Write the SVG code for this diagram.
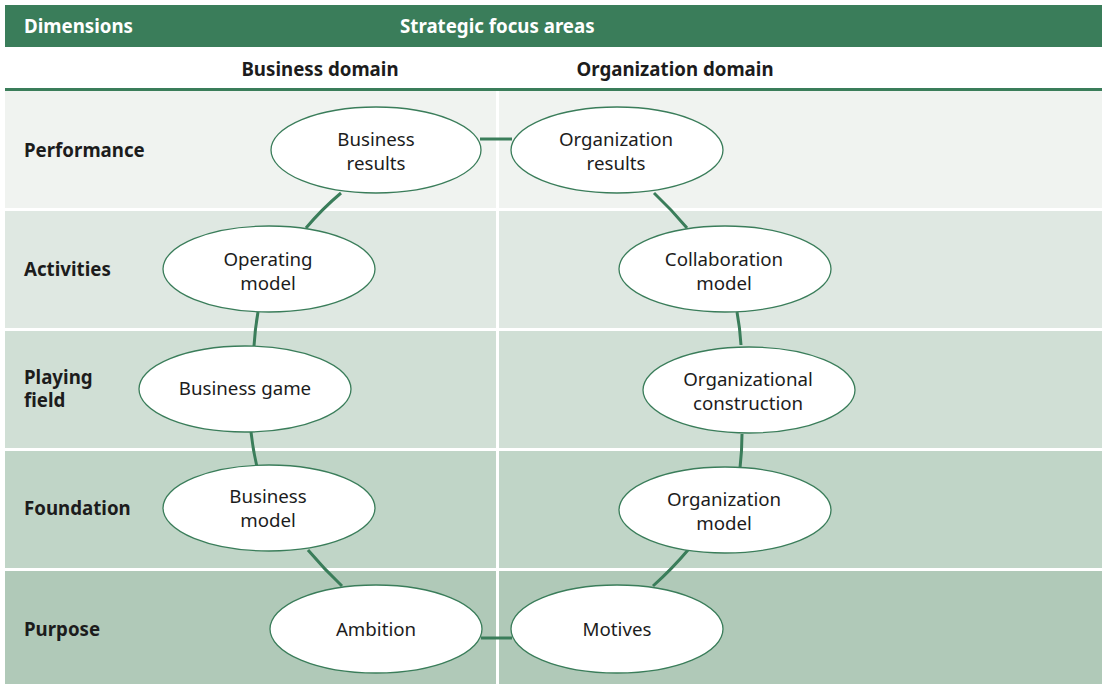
<svg xmlns="http://www.w3.org/2000/svg" width="1102" height="684" viewBox="0 0 1102 684">
<style>
text{font-family:"Noto Sans","Open Sans","DejaVu Sans",sans-serif;font-size:18.7px;fill:#1c1c1c}
.h{fill:#fff;font-weight:bold}
.b{font-weight:bold}
.n{text-anchor:middle}
.node ellipse{fill:#fff;stroke:#3a7d5a;stroke-width:1.3}
.conn{stroke:#3a7d5a;stroke-width:3;fill:none}
</style>
<rect x="0" y="0" width="1102" height="684" fill="#fff"/>
<g id="table">
<rect x="5" y="5" width="1097" height="42" fill="#3a7d5a"/>
<rect x="5" y="88" width="1097" height="3" fill="#3a7d5a"/>
<rect x="5" y="91" width="1097" height="117" fill="#f0f3f0"/>
<rect x="5" y="211" width="1097" height="117" fill="#dfe8e2"/>
<rect x="5" y="331" width="1097" height="117" fill="#d0dfd5"/>
<rect x="5" y="451" width="1097" height="117" fill="#c0d5c7"/>
<rect x="5" y="571" width="1097" height="113" fill="#b0c9b8"/>
<rect x="496" y="91" width="3" height="593" fill="#fff"/>
<text class="h" x="24" y="33">Dimensions</text>
<text class="h" x="400" y="33">Strategic focus areas</text>
<text class="b n" x="320" y="76">Business domain</text>
<text class="b n" x="675" y="76">Organization domain</text>
<text class="b" x="24" y="157">Performance</text>
<text class="b" x="24" y="276">Activities</text>
<text class="b" x="24" y="384">Playing</text>
<text class="b" x="24" y="407">field</text>
<text class="b" x="24" y="515">Foundation</text>
<text class="b" x="24" y="636">Purpose</text>
</g>
<g id="connectors">
<line class="conn" x1="480" y1="139" x2="512" y2="139"/>
<path class="conn" d="M341,193 Q322,209 306,228"/>
<path class="conn" d="M258,312 Q255,329 254,346"/>
<path class="conn" d="M251,432 Q253,450 257,467"/>
<path class="conn" d="M308,550 Q324,569 342,586"/>
<line class="conn" x1="481" y1="638" x2="512" y2="638"/>
<path class="conn" d="M653,586 Q672,569 688,550"/>
<path class="conn" d="M740,468 Q742,451 742,434"/>
<path class="conn" d="M741,345 Q740,328 737,312"/>
<path class="conn" d="M687,228 Q671,209 654,193"/>
</g>
<g id="n-business-results" class="node"><ellipse cx="376" cy="150" rx="105" ry="43"/><text class="n" x="376" y="146">Business</text><text class="n" x="376" y="170">results</text></g>
<g id="n-organization-results" class="node"><ellipse cx="617" cy="150" rx="106" ry="43"/><text class="n" x="616" y="146">Organization</text><text class="n" x="616" y="170">results</text></g>
<g id="n-operating-model" class="node"><ellipse cx="269" cy="269" rx="106" ry="43"/><text class="n" x="268" y="266">Operating</text><text class="n" x="268" y="290">model</text></g>
<g id="n-collaboration-model" class="node"><ellipse cx="725" cy="269" rx="106" ry="43"/><text class="n" x="724" y="266">Collaboration</text><text class="n" x="724" y="290">model</text></g>
<g id="n-business-game" class="node"><ellipse cx="245" cy="389" rx="106" ry="43"/><text class="n" x="245" y="395">Business game</text></g>
<g id="n-organizational-construction" class="node"><ellipse cx="749" cy="390" rx="106" ry="43"/><text class="n" x="748" y="386">Organizational</text><text class="n" x="748" y="410">construction</text></g>
<g id="n-business-model" class="node"><ellipse cx="269" cy="508" rx="106" ry="43"/><text class="n" x="268" y="503">Business</text><text class="n" x="268" y="527">model</text></g>
<g id="n-organization-model" class="node"><ellipse cx="725" cy="510" rx="106" ry="43"/><text class="n" x="724" y="506">Organization</text><text class="n" x="724" y="530">model</text></g>
<g id="n-ambition" class="node"><ellipse cx="376" cy="629" rx="106" ry="44"/><text class="n" x="376" y="636">Ambition</text></g>
<g id="n-motives" class="node"><ellipse cx="617" cy="629" rx="106" ry="44"/><text class="n" x="617" y="636">Motives</text></g>
</svg>
